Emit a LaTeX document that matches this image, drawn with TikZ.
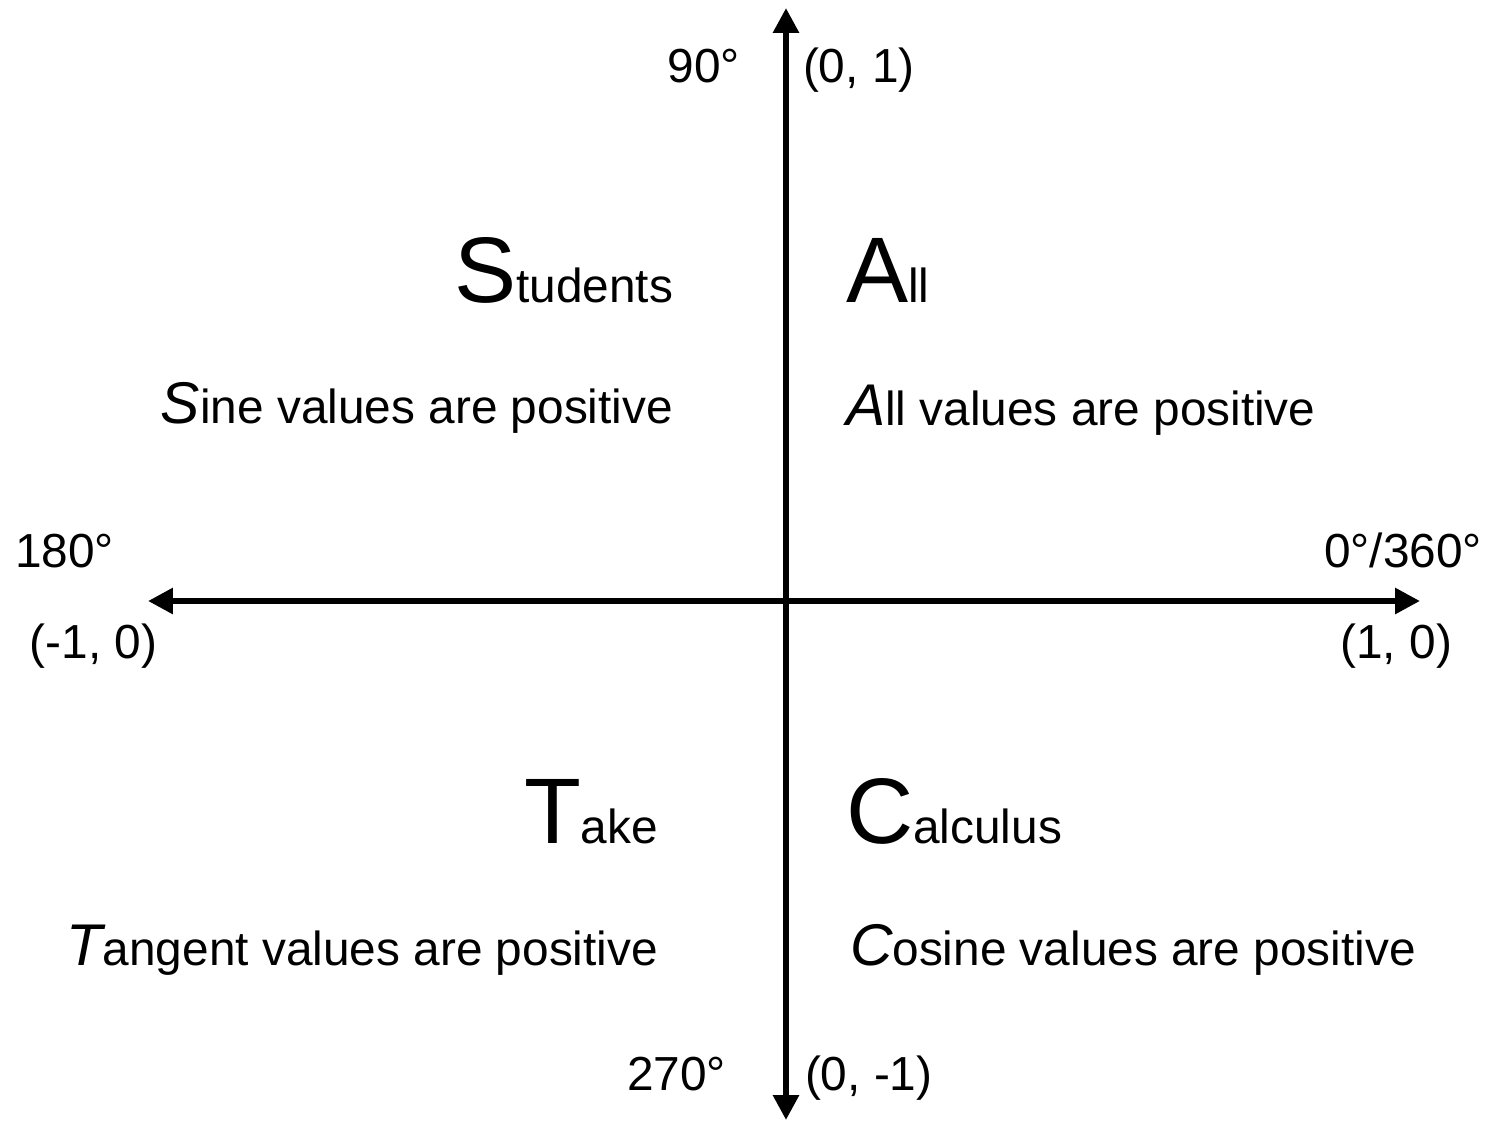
\documentclass[tikz,border=0pt]{standalone}
\usepackage{fontspec}
\setmainfont{Liberation Sans}
\usetikzlibrary{arrows.meta}
\newcommand{\bigL}[1]{{\fontsize{53}{60}\selectfont #1}}
\newcommand{\itL}[1]{{\fontsize{33.5}{40}\selectfont\itshape #1}}
\tikzset{
  lbl/.style={inner sep=0pt, outer sep=0pt, font=\fontsize{27.2}{32}\selectfont},
  axis/.style={line width=0.12cm, -{Triangle[length=0.5cm,width=0.5cm]}},
}
\begin{document}
\begin{tikzpicture}[x=0.02cm,y=-0.02cm]
\useasboundingbox (0,0) rectangle (1492,1123);
\coordinate (top) at (786,8);
\coordinate (bot) at (786,1120);
\coordinate (left) at (148,601);
\coordinate (right) at (1420,601);
\coordinate (o) at (786,601);
\draw[axis] (o) -- (top);
\draw[axis] (o) -- (bot);
\draw[axis] (o) -- (left);
\draw[axis] (o) -- (right);

\node[lbl, anchor=base east] (n90) at (740,82) {90°};
\node[lbl, anchor=base west] (p01) at (803,82) {(0, 1)};
\node[lbl, anchor=base east] (n270) at (726,1090) {270°};
\node[lbl, anchor=base west] (p0m1) at (805,1090) {(0, -1)};
\node[lbl, anchor=base west] (n180) at (15,567) {180°};
\node[lbl, anchor=base east] (n360) at (1482,567) {0°/360°};
\node[lbl, anchor=base west] (pm10) at (30,658) {(-1, 0)};
\node[lbl, anchor=base east] (p10) at (1452,658) {(1, 0)};

\node[lbl, anchor=base east] (stud) at (673,302) {\bigL{S}tudents};
\node[lbl, anchor=base west] (all) at (846,302) {\bigL{A}ll};
\node[lbl, anchor=base east] (take) at (658,843) {\bigL{T}ake};
\node[lbl, anchor=base west] (calc) at (846,843) {\bigL{C}alculus};

\node[lbl, anchor=base east] (sine) at (673,423) {\itL{S}ine values are positive};
\node[lbl, anchor=base west] (allv) at (846,425) {\itL{A}ll values are positive};
\node[lbl, anchor=base east] (tan) at (658,965) {\itL{T}angent values are positive};
\node[lbl, anchor=base west] (cos) at (850,965) {\itL{C}osine values are positive};
\end{tikzpicture}
\end{document}
